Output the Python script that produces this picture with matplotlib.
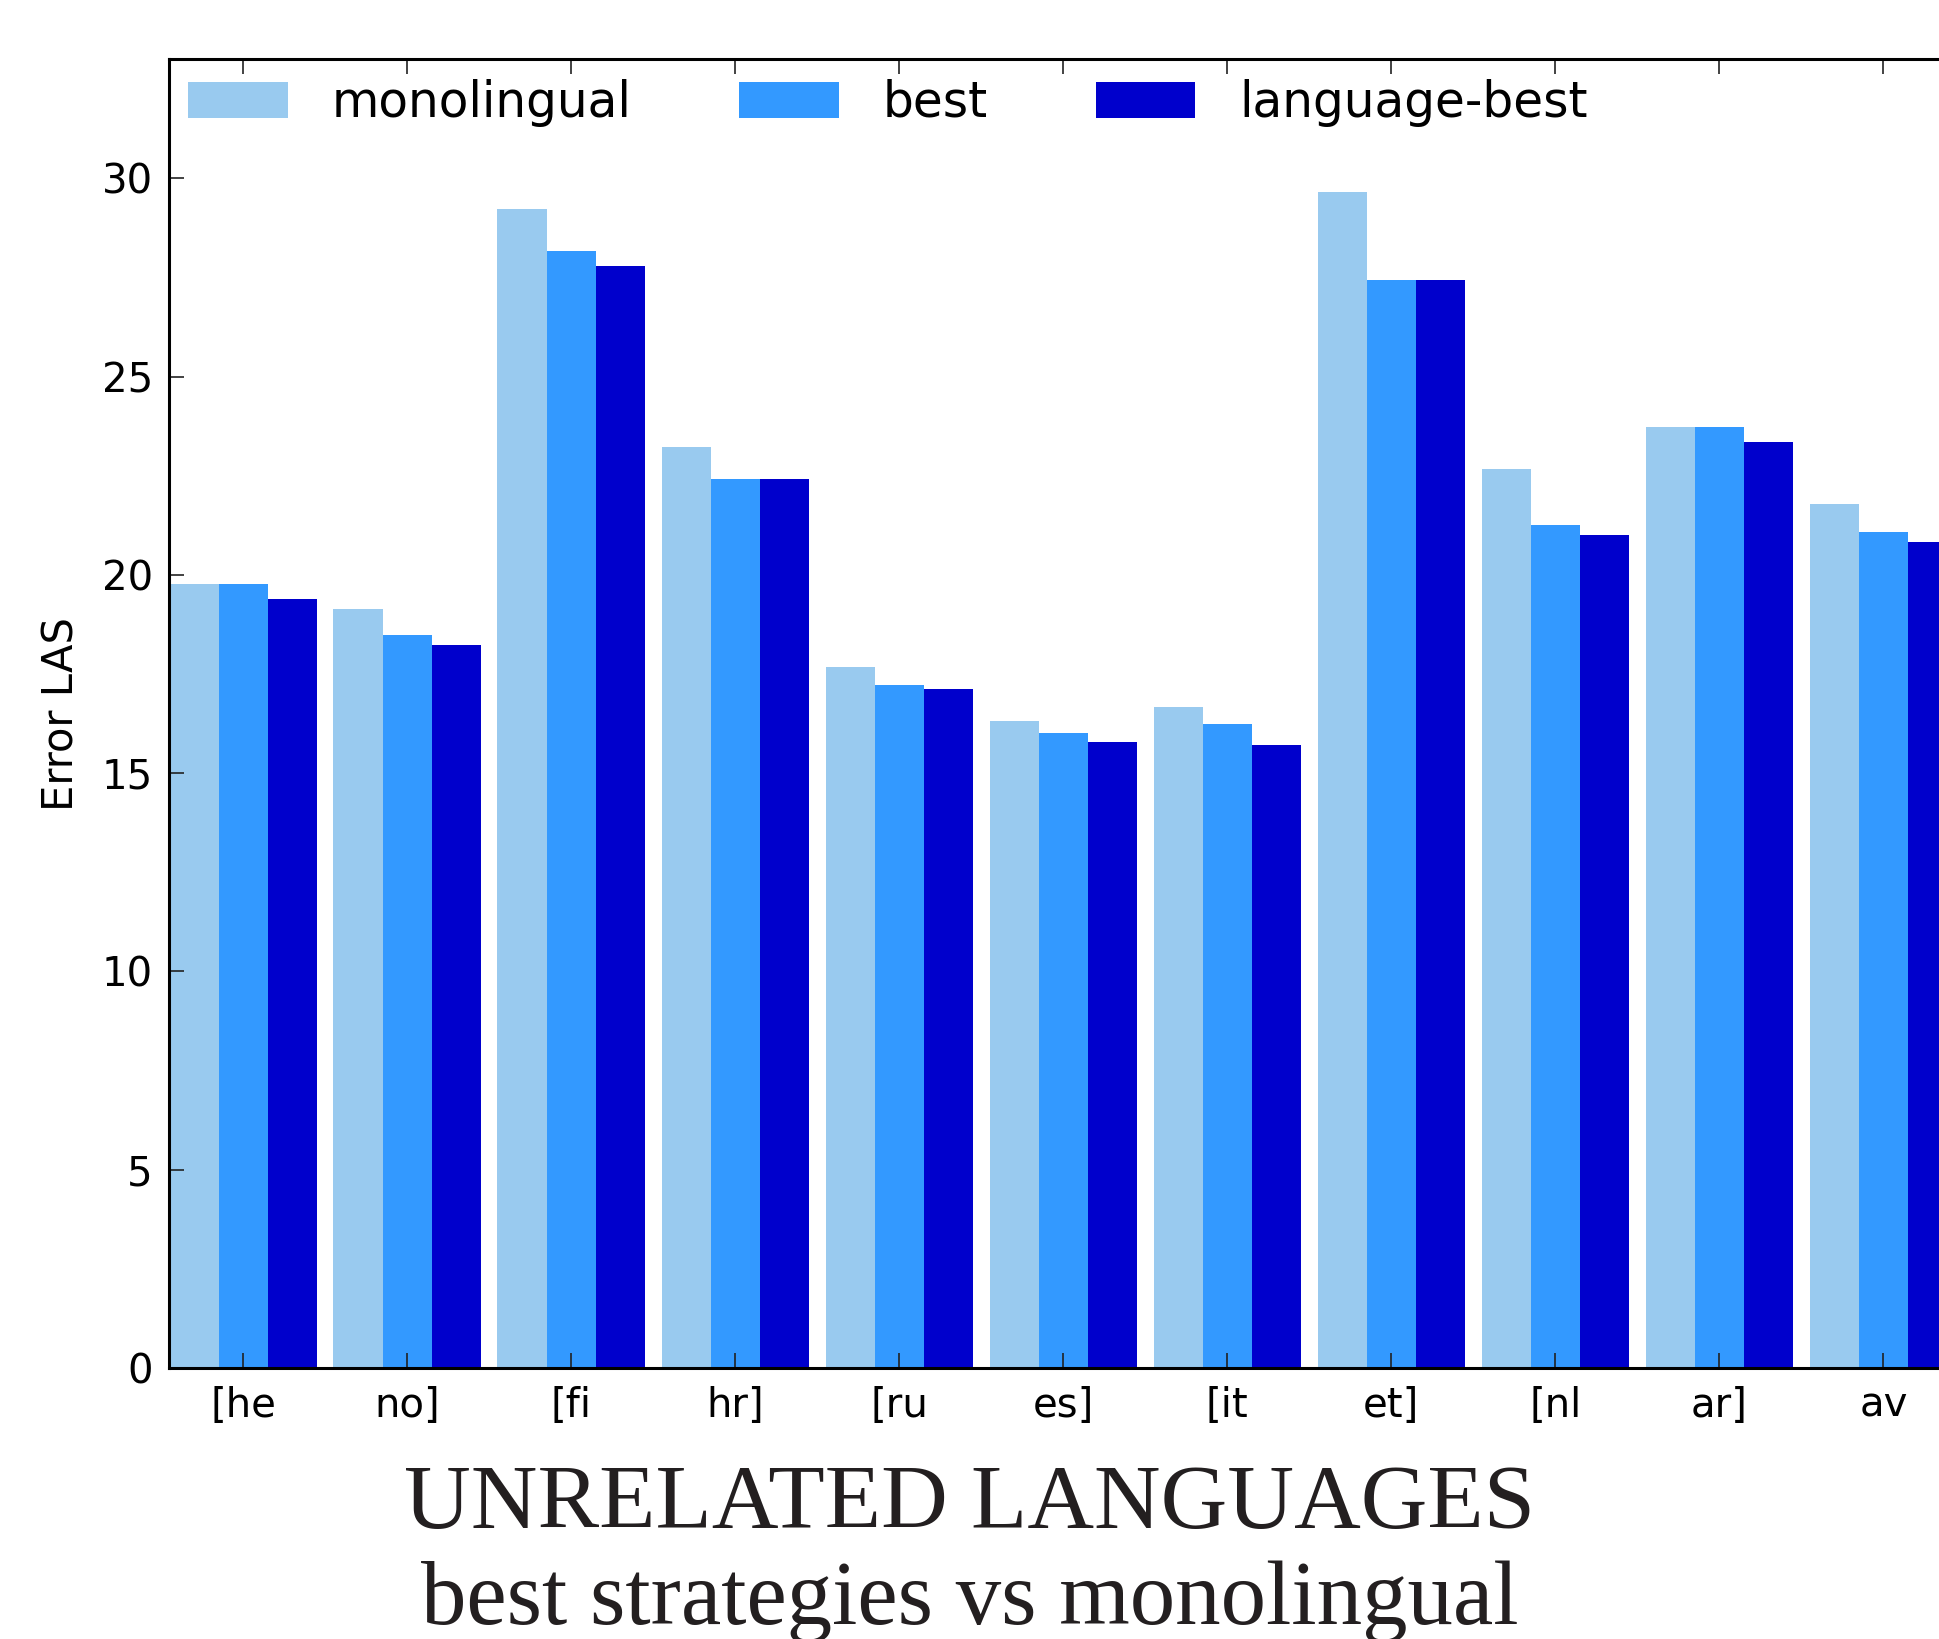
import matplotlib
matplotlib.use("Agg")
import matplotlib.pyplot as plt
import numpy as np

# Error LAS per language pair
languages = ['[he', 'no]', '[fi', 'hr]', '[ru', 'es]', '[it', 'et]', '[nl', 'ar]', 'av']
monolingual = [19.76, 19.14, 29.22, 23.23, 17.67, 16.30, 16.67, 29.66, 22.67, 23.73, 21.79]
best = [19.76, 18.48, 28.16, 22.42, 17.23, 16.02, 16.23, 27.44, 21.26, 23.73, 21.07]
language_best = [19.39, 18.23, 27.79, 22.42, 17.11, 15.77, 15.70, 27.44, 21.01, 23.35, 20.82]

series_names = ['monolingual', 'best', 'language-best']
colors = ['#99CAEF', '#3399FF', '#0000CC']

fig = plt.figure(figsize=(19.39, 16.39), dpi=100)
# axes runs past the right edge, like the cropped original
ax = fig.add_axes([0.0874, 0.1655, 0.922, 0.7983])

x = np.arange(len(languages))
w = 0.3
for k, (vals, name, c) in enumerate(zip([monolingual, best, language_best], series_names, colors)):
    ax.bar(x + (k - 1) * w, vals, width=w, color=c, linewidth=0, label=name)

ax.set_xlim(-0.45, len(languages) - 0.55)
ax.set_ylim(0, 33)
ax.set_yticks([0, 5, 10, 15, 20, 25, 30])
ax.set_xticks(x)
ax.set_xticklabels(languages)

ax.tick_params(direction='in', top=True, right=True, length=11, width=1.2,
               labelsize=29, color='#222222')
ax.tick_params(axis='x', pad=13)
ax.tick_params(axis='y', pad=12)
for s in ax.spines.values():
    s.set_linewidth(2.2)

ax.set_ylabel('Error LAS', fontsize=30)
ax.yaxis.set_label_coords(-0.0485, 0.5)

ax.legend(loc='upper left', bbox_to_anchor=(0.0104, 0.985), ncol=3, frameon=False,
          fontsize=35, handlelength=2.05, handleheight=0.75, handletextpad=0.9,
          columnspacing=2.22, borderpad=0, borderaxespad=0)

fig.text(0.5, 0.0677, 'UNRELATED LANGUAGES', ha='center', va='baseline',
         family='Liberation Serif', fontsize=66.5, color='#231f20')
fig.text(0.5, 0.0092, 'best strategies vs monolingual', ha='center', va='baseline',
         family='Liberation Serif', fontsize=65.3, color='#231f20')

plt.savefig('out.png', dpi=100)
